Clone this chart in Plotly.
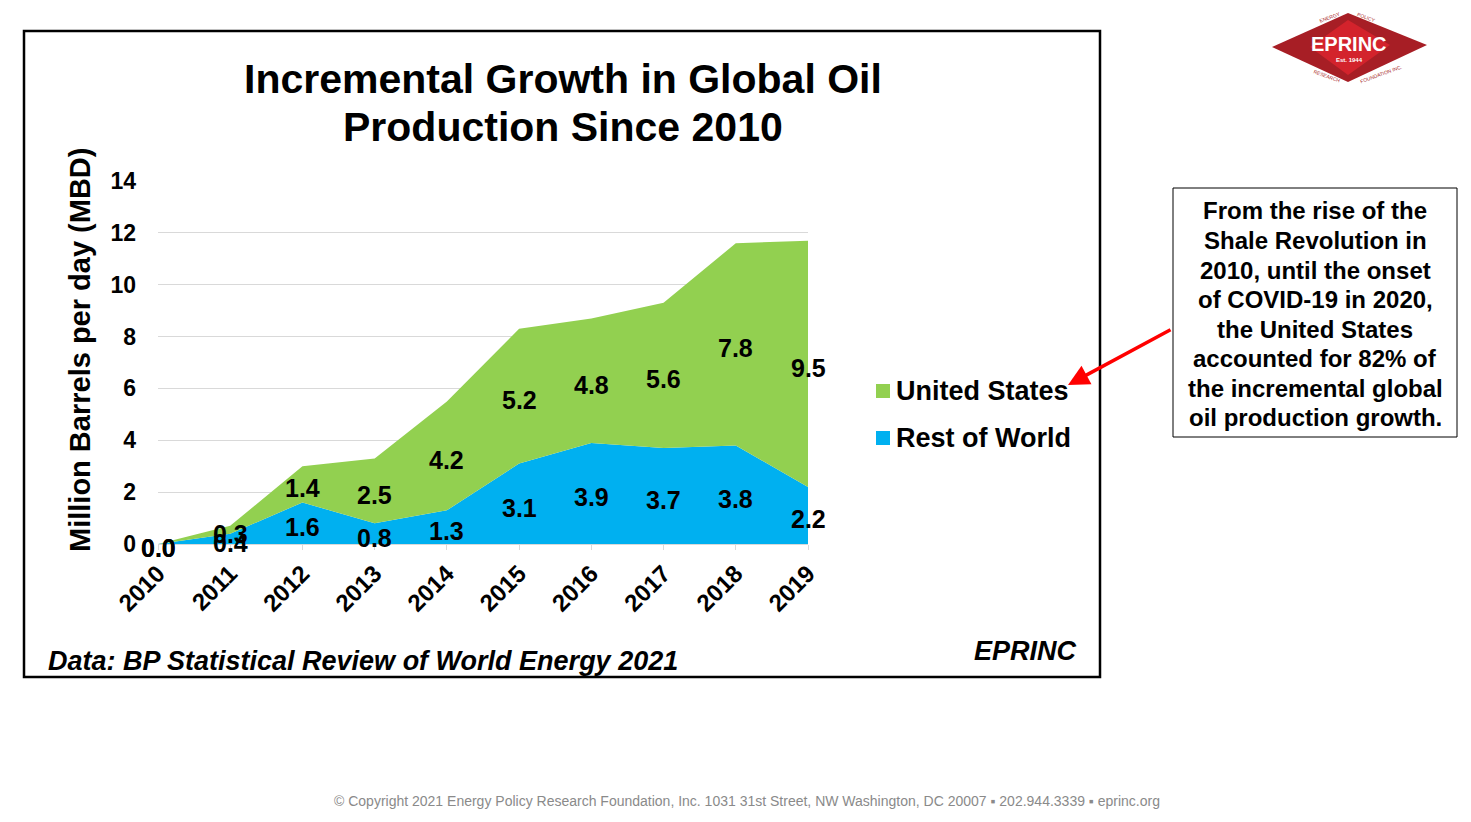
import plotly.graph_objects as go

years = [2010, 2011, 2012, 2013, 2014, 2015, 2016, 2017, 2018, 2019]
rest_of_world = [0.0, 0.4, 1.6, 0.8, 1.3, 3.1, 3.9, 3.7, 3.8, 2.2]
united_states = [0.0, 0.3, 1.4, 2.5, 4.2, 5.2, 4.8, 5.6, 7.8, 9.5]
y_ticks = [0, 2, 4, 6, 8, 10, 12, 14]

GREEN = "#92D050"
BLUE = "#00B0F0"
FONT = "Liberation Sans, Arial, sans-serif"

OFF = 8  # page body margin
W, H = 1471 - 2 * OFF, 822 - 2 * OFF
L, R, T, B = 158, 808, 181, 544  # plot area in reference (window) pixels


def px(x):
    return (x - L) / (R - L)


def py(y):
    return (B - y) / (B - T)


fig = go.Figure()
fig.add_trace(go.Scatter(x=years, y=rest_of_world, stackgroup="one", mode="none",
                         fillcolor=BLUE, name="Rest of World", showlegend=False))
fig.add_trace(go.Scatter(x=years, y=united_states, stackgroup="one", mode="none",
                         fillcolor=GREEN, name="United States", showlegend=False))

shapes = []
annotations = []

# data labels, centred in each stacked band
label_font = dict(family=FONT, size=25, color="black")
for x, r, u in zip(years, rest_of_world, united_states):
    annotations.append(dict(x=x, y=r / 2, xref="x", yref="y", text=f"<b>{r:.1f}</b>",
                            showarrow=False, font=label_font, yshift=-4,
                            xanchor="center", yanchor="middle"))
    annotations.append(dict(x=x, y=r + u / 2, xref="x", yref="y", text=f"<b>{u:.1f}</b>",
                            showarrow=False, font=label_font, yshift=-4,
                            xanchor="center", yanchor="middle"))

# outer chart box
shapes.append(dict(type="rect", xref="paper", yref="paper",
                   x0=px(24), x1=px(1100), y0=py(677), y1=py(31),
                   line=dict(color="black", width=2.5), fillcolor="rgba(0,0,0,0)", layer="below"))

# title
for line, yc in [("Incremental Growth in Global Oil", 79), ("Production Since 2010", 127)]:
    annotations.append(dict(xref="paper", yref="paper", x=px(563), y=py(yc),
                            text=f"<b>{line}</b>", showarrow=False,
                            font=dict(family=FONT, size=41, color="black"),
                            xanchor="center", yanchor="middle"))

# y-axis title
annotations.append(dict(xref="paper", yref="paper", x=px(80), y=py(350),
                        text="<b>Million Barrels per day (MBD)</b>", textangle=-90,
                        showarrow=False, font=dict(family=FONT, size=29, color="black"),
                        xanchor="center", yanchor="middle"))

# legend (manual)
for color, label, yc in [(GREEN, "United States", 391), (BLUE, "Rest of World", 438)]:
    shapes.append(dict(type="rect", xref="paper", yref="paper",
                       x0=px(876), x1=px(890), y0=py(yc + 7), y1=py(yc - 7),
                       fillcolor=color, line=dict(width=0)))
    annotations.append(dict(xref="paper", yref="paper", x=px(894), y=py(yc),
                            text=f"<b>{label}</b>", showarrow=False,
                            font=dict(family=FONT, size=27, color="black"),
                            xanchor="left", yanchor="middle"))

# source and brand
annotations.append(dict(xref="paper", yref="paper", x=px(46), y=py(661),
                        text="<b><i>Data: BP Statistical Review of World Energy 2021</i></b>",
                        showarrow=False, font=dict(family=FONT, size=27, color="black"),
                        xanchor="left", yanchor="middle"))
annotations.append(dict(xref="paper", yref="paper", x=px(1079), y=py(651),
                        text="<b><i>EPRINC</i></b>",
                        showarrow=False, font=dict(family=FONT, size=27, color="black"),
                        xanchor="right", yanchor="middle"))

# call-out box
shapes.append(dict(type="rect", xref="paper", yref="paper",
                   x0=px(1173), x1=px(1457), y0=py(437), y1=py(188),
                   line=dict(color="black", width=1), fillcolor="white"))
callout_lines = ["From the rise of the", "Shale Revolution in", "2010, until the onset",
                 "of COVID-19 in 2020,", "the United States", "accounted for 82% of",
                 "the incremental global", "oil production growth."]
for i, line in enumerate(callout_lines):
    annotations.append(dict(xref="paper", yref="paper", x=px(1315), y=py(211 + 29.5 * i),
                            text=f"<b>{line}</b>", showarrow=False,
                            font=dict(family=FONT, size=24, color="black"),
                            xanchor="center", yanchor="middle"))

# red arrow
annotations.append(dict(xref="paper", yref="paper", x=px(1068), y=py(385),
                        ax=104, ay=-56, text="", showarrow=True,
                        arrowhead=2, arrowsize=1.2, arrowwidth=3.5, arrowcolor="#FF0000"))

# logo
shapes.append(dict(type="path", xref="paper", yref="paper",
                   path=f"M {px(1272)},{py(47)} L {px(1348)},{py(13)} L {px(1427)},{py(45)} "
                        f"L {px(1348)},{py(82)} Z",
                   fillcolor="#A71E25", line=dict(width=0)))
shapes.append(dict(type="path", xref="paper", yref="paper",
                   path=f"M {px(1310)},{py(47)} L {px(1348)},{py(20)} L {px(1390)},{py(45)} "
                        f"L {px(1348)},{py(75)} Z",
                   fillcolor="#D3232C", line=dict(width=0)))
annotations.append(dict(xref="paper", yref="paper", x=px(1349), y=py(44),
                        text="<b>EPRINC</b>", showarrow=False,
                        font=dict(family="Liberation Sans Narrow, Liberation Sans, Arial", size=20, color="white"),
                        xanchor="center", yanchor="middle"))
annotations.append(dict(xref="paper", yref="paper", x=px(1349), y=py(60),
                        text="<b>Est. 1944</b>", showarrow=False,
                        font=dict(family=FONT, size=6, color="white"),
                        xanchor="center", yanchor="middle"))
for txt, x, y, ang in [("ENERGY", 1330, 17, -20), ("POLICY", 1366, 17, 20),
                       ("RESEARCH", 1327, 76, 20), ("FOUNDATION INC.", 1381, 74, -20)]:
    annotations.append(dict(xref="paper", yref="paper", x=px(x), y=py(y), text=txt,
                            showarrow=False, textangle=ang,
                            font=dict(family=FONT, size=5, color="#A71E25"),
                            xanchor="center", yanchor="middle"))

# footer
annotations.append(dict(xref="paper", yref="paper", x=px(747), y=py(801),
                        text="© Copyright 2021 Energy Policy Research Foundation, Inc. 1031 31st Street, "
                             "NW Washington, DC 20007 ▪ 202.944.3339 ▪ eprinc.org",
                        showarrow=False, font=dict(family=FONT, size=14, color="#8A8A8A"),
                        xanchor="center", yanchor="middle"))

fig.update_layout(
    width=W, height=H,
    margin=dict(l=L - OFF, r=W - (R - OFF), t=T - OFF, b=H - (B - OFF), pad=0),
    paper_bgcolor="white", plot_bgcolor="white",
    showlegend=False,
    shapes=shapes, annotations=annotations,
    xaxis=dict(range=[years[0], years[-1]], tickmode="array", tickvals=years,
               ticktext=[f"<b>{y}</b>" for y in years], tickangle=-45,
               tickfont=dict(family=FONT, size=24, color="black"),
               showgrid=False, zeroline=False, showline=True, linecolor="#D9D9D9",
               ticks="outside", ticklen=5, tickcolor="#D9D9D9"),
    yaxis=dict(range=[0, 14], tickmode="array", tickvals=y_ticks,
               ticktext=[f"<b>{v}</b>" for v in y_ticks],
               tickfont=dict(family=FONT, size=23, color="black"),
               showgrid=True, gridcolor="#D9D9D9", gridwidth=1,
               zeroline=False, showline=False, ticklabelstandoff=21),
    font=dict(family=FONT),
)

fig.write_html("out.html")
